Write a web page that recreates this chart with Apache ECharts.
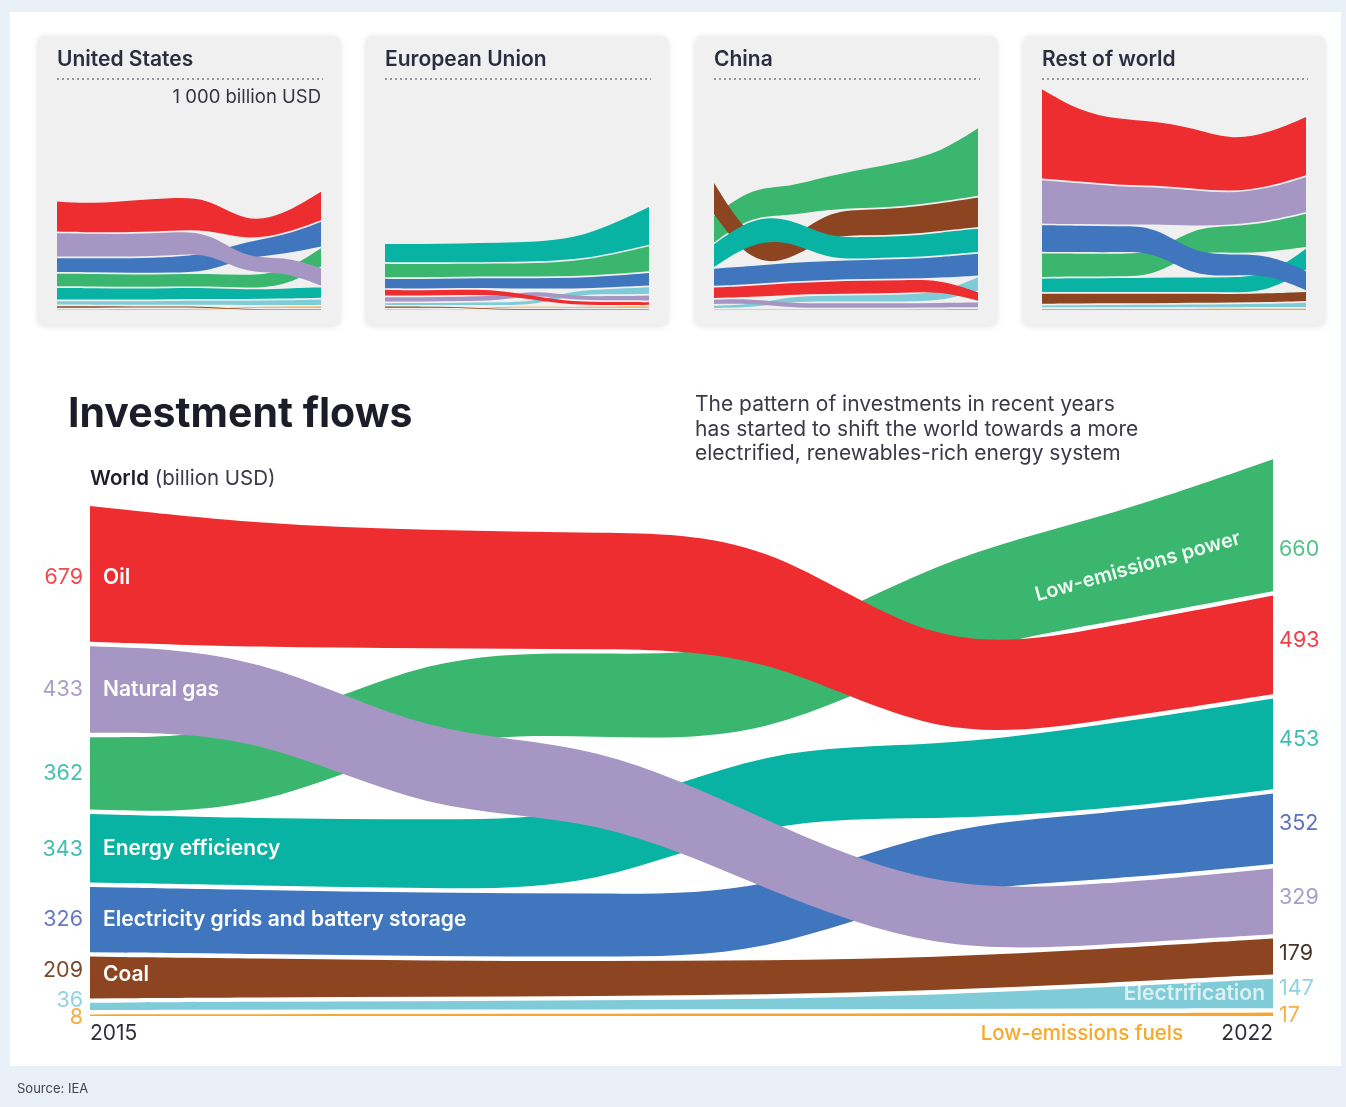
<!DOCTYPE html>
<html>
<head>
<meta charset="utf-8">
<title>Investment flows</title>
<script src="https://cdn.jsdelivr.net/npm/echarts@6/dist/echarts.min.js"></script>
<style>
  html, body { margin: 0; padding: 0; background: #e9f0f7; }
  #chart { width: 1346px; height: 1107px; }
</style>
</head>
<body>
<div id="chart"></div>
<script>
// ---- data (billion USD) ----
const years = [2015, 2016, 2017, 2018, 2019, 2020, 2021, 2022];
const categories = ['Oil', 'Natural gas', 'Low-emissions power', 'Energy efficiency',
  'Electricity grids and battery storage', 'Coal', 'Electrification', 'Low-emissions fuels'];

// World
const worldOil   = [679, 615, 590, 580, 585, 430, 465, 493];
const worldGas   = [433, 405, 385, 370, 345, 305, 300, 329];
const worldLEP   = [362, 385, 405, 415, 430, 470, 525, 660];
const worldEff   = [343, 335, 345, 350, 355, 365, 425, 453];
const worldGrids = [326, 320, 318, 315, 310, 315, 330, 352];
const worldCoal  = [209, 195, 180, 175, 170, 165, 170, 179];
const worldElec  = [36, 40, 42, 45, 50, 70, 105, 147];
const worldFuels = [8, 9, 10, 11, 12, 13, 15, 17];

// United States
const usOil   = [158, 150, 168, 172, 168, 90, 100, 150];
const usGas   = [123, 118, 120, 122, 112, 78, 80, 92];
const usLEP   = [66, 66, 64, 64, 66, 65, 74, 96];
const usEff   = [61, 60, 58, 58, 58, 50, 52, 55];
const usGrids = [72, 74, 76, 80, 95, 82, 97, 130];
const usCoal  = [8, 7, 6, 6, 5, 4, 3, 3];
const usElec  = [17, 18, 18, 20, 22, 22, 25, 28];
const usFuels = [3, 3, 4, 4, 4, 4, 5, 6];

// European Union
const euOil   = [30, 27, 28, 25, 20, 17, 16, 14];
const euGas   = [22, 22, 23, 23, 23, 21, 22, 26];
const euLEP   = [70, 70, 68, 68, 70, 78, 100, 131];
const euEff   = [96, 97, 98, 100, 104, 112, 150, 198];
const euGrids = [49, 50, 50, 52, 54, 56, 60, 66];
const euCoal  = [6, 5, 5, 4, 4, 3, 3, 3];
const euElec  = [9, 10, 12, 14, 17, 22, 28, 35];
const euFuels = [3, 3, 3, 4, 4, 4, 5, 6];

// China
const cnOil   = [55, 58, 62, 66, 68, 66, 62, 44];
const cnGas   = [22, 23, 24, 24, 24, 24, 24, 26];
const cnLEP   = [140, 150, 150, 175, 205, 235, 260, 355];
const cnEff   = [120, 130, 120, 115, 112, 110, 120, 123];
const cnGrids = [90, 95, 98, 98, 100, 102, 108, 115];
const cnCoal  = [165, 110, 100, 130, 135, 140, 145, 155];
const cnElec  = [12, 16, 26, 30, 32, 36, 44, 70];
const cnFuels = [2, 2, 3, 3, 3, 3, 4, 5];

// Rest of world
const rowOil   = [470, 370, 345, 338, 318, 272, 282, 307];
const rowGas   = [228, 215, 200, 195, 188, 165, 170, 184];
const rowLEP   = [123, 120, 118, 120, 125, 140, 155, 175];
const rowEff   = [70, 72, 74, 75, 76, 78, 85, 110];
const rowGrids = [140, 138, 136, 135, 120, 110, 105, 100];
const rowCoal  = [53, 52, 50, 50, 48, 45, 45, 48];
const rowElec  = [10, 11, 12, 13, 14, 15, 18, 22];
const rowFuels = [5, 5, 5, 5, 6, 6, 6, 7];

// ---- styling ----
const FONT = 'Inter, "Noto Sans", sans-serif';
const bandColors = ['#ee2d31', '#a596c4', '#3bb66f', '#09b3a3', '#3f76bd', '#8c4520', '#7fcbd8', '#f7a72c'];
const leftLabelColors  = ['#ef4a4f', '#a99dca', '#45c0b0', '#3fbdae', '#6479c2', '#7b4a2c', '#8fd3e3', '#f6ad45'];
const rightLabelColors = ['#ef3e46', '#a99dca', '#55c286', '#3fbdae', '#5b72c0', '#4a3328', '#8fd3e3', '#f6ad45'];
// paint order, bottom to top
const drawOrder = [7, 6, 2, 5, 3, 4, 1, 0];

const worldSeries = [worldOil, worldGas, worldLEP, worldEff, worldGrids, worldCoal, worldElec, worldFuels];
const panels = [
  { title: 'United States',  box: 38,   vals: [usOil, usGas, usLEP, usEff, usGrids, usCoal, usElec, usFuels] },
  { title: 'European Union', box: 366,  vals: [euOil, euGas, euLEP, euEff, euGrids, euCoal, euElec, euFuels] },
  { title: 'China',          box: 695,  vals: [cnOil, cnGas, cnLEP, cnEff, cnGrids, cnCoal, cnElec, cnFuels] },
  { title: 'Rest of world',  box: 1023, vals: [rowOil, rowGas, rowLEP, rowEff, rowGrids, rowCoal, rowElec, rowFuels] }
];

// Rank-ordered stacking: each year the largest category sits on top, with a gap between bands.
function layout(vals, gap) {
  const lo = vals.map(() => []), hi = vals.map(() => []);
  years.forEach((yr, j) => {
    const order = vals.map((v, i) => i).sort((a, b) => vals[a][j] - vals[b][j]);
    let base = 0;
    order.forEach(i => {
      lo[i][j] = base;
      hi[i][j] = base + vals[i][j];
      base = hi[i][j] + gap;
    });
  });
  return { lo, hi };
}

// Uniform cubic B-spline through pixel points (same construction as d3.curveBasis).
function basis(pts, out, first) {
  let x0, y0, x1, y1, k = 0;
  const f = v => v.toFixed(2);
  const bez = (x, y) => out.push('C' + f((2 * x0 + x1) / 3) + ',' + f((2 * y0 + y1) / 3) + ' ' +
    f((x0 + 2 * x1) / 3) + ',' + f((y0 + 2 * y1) / 3) + ' ' +
    f((x0 + 4 * x1 + x) / 6) + ',' + f((y0 + 4 * y1 + y) / 6));
  pts.forEach(p => {
    const x = p[0], y = p[1];
    if (k === 0) { out.push((first ? 'M' : 'L') + f(x) + ',' + f(y)); k = 1; }
    else if (k === 1) { k = 2; }
    else {
      if (k === 2) { out.push('L' + f((5 * x0 + x1) / 6) + ',' + f((5 * y0 + y1) / 6)); k = 3; }
      bez(x, y);
    }
    x0 = x1; y0 = y1; x1 = x; y1 = y;
  });
  if (k === 3) { bez(x1, y1); out.push('L' + f(x1) + ',' + f(y1)); }
  else if (k === 2) { out.push('L' + f(x1) + ',' + f(y1)); }
}

function bandSeries(axisIndex, lay) {
  return {
    type: 'custom',
    coordinateSystem: 'cartesian2d',
    xAxisIndex: axisIndex,
    yAxisIndex: axisIndex,
    silent: true,
    animation: false,
    z: 2,
    data: drawOrder.map(ci => [years[0], 0, ci]),
    encode: { x: 0, y: 1 },
    renderItem: function (params, api) {
      const ci = api.value(2);
      const top = years.map((yr, j) => api.coord([yr, lay.hi[ci][j]]));
      const bot = years.map((yr, j) => api.coord([yr, lay.lo[ci][j]])).reverse();
      const cmds = [];
      basis(top, cmds, true);
      basis(bot, cmds, false);
      cmds.push('Z');
      return { type: 'path', shape: { pathData: cmds.join(' ') }, style: { fill: bandColors[ci] } };
    }
  };
}

function txt(x, y, text, font, fill, align, extra) {
  return Object.assign({
    type: 'text', x: x, y: y,
    style: { text: text, font: font, fill: fill, align: align || 'left', textAlign: align || 'left',
             verticalAlign: 'middle', textVerticalAlign: 'middle' }
  }, extra || {});
}

const WORLD_GAP = 22;
const PANEL_GAP = 9;
const worldLay = layout(worldSeries, WORLD_GAP);
const panelLays = panels.map(p => layout(p.vals, PANEL_GAP));

// labels on the world chart, anchored to band centres through the axes
const leftNudge  = [4, 0, 0, 1, 0, -7, -6, 2];
const rightNudge = [-4, -4, 24, -4, -5, -3, -5, 1];
const namedAtStart = [0, 1, 3, 4, 5];

const worldLabels = {
  type: 'custom',
  coordinateSystem: 'cartesian2d',
  xAxisIndex: 4,
  yAxisIndex: 4,
  silent: true,
  animation: false,
  z: 5,
  data: [[years[0], 0]],
  encode: { x: 0, y: 1 },
  renderItem: function (params, api) {
    const last = years.length - 1;
    const mid = (ci, j) => (worldLay.lo[ci][j] + worldLay.hi[ci][j]) / 2;
    const kids = [];
    categories.forEach((name, ci) => {
      const pL = api.coord([years[0], mid(ci, 0)]);
      const pR = api.coord([years[last], mid(ci, last)]);
      kids.push(txt(pL[0] - 7, pL[1] + leftNudge[ci], String(worldSeries[ci][0]),
        '400 21.5px ' + FONT, leftLabelColors[ci], 'right'));
      kids.push(txt(pR[0] + 6, pR[1] + rightNudge[ci], String(worldSeries[ci][last]),
        '400 21.5px ' + FONT, rightLabelColors[ci], 'left'));
      if (namedAtStart.indexOf(ci) >= 0) {
        kids.push(txt(pL[0] + 13, pL[1] + (ci === 5 ? -3 : ci === 0 ? 4 : 0), name, '600 21px ' + FONT, '#ffffff', 'left'));
      }
    });
    // rotated label along the low-emissions power band
    const t = 0.2;
    const lepMid = mid(2, last - 1) * (1 - t) + mid(2, last) * t;
    const pLep = api.coord([years[last - 1] + t, lepMid]);
    kids.push(txt(pLep[0], pLep[1] + 5, categories[2], '600 20px ' + FONT, 'rgba(255,255,255,0.92)', 'center',
      { rotation: 0.275 }));
    // electrification, inside its band at the right end
    const pEl = api.coord([years[last], mid(6, last)]);
    kids.push(txt(pEl[0] - 8, pEl[1], categories[6], '600 21px ' + FONT, 'rgba(255,255,255,0.72)', 'right'));
    // low-emissions fuels, under the baseline
    const base = api.coord([years[last], 0]);
    kids.push(txt(base[0] - 90, base[1] + 18, categories[7], '500 20.5px ' + FONT, '#f7a82a', 'right'));
    // first and last year
    const b0 = api.coord([years[0], 0]);
    kids.push(txt(b0[0], b0[1] + 18, String(years[0]), '400 21px ' + FONT, '#2f2f3c', 'left'));
    kids.push(txt(base[0], base[1] + 18, String(years[last]), '400 21px ' + FONT, '#2f2f3c', 'right'));
    return { type: 'group', children: kids };
  }
};

// ---- axes / grids ----
const grids = [], xAxes = [], yAxes = [], series = [];
panels.forEach((p, i) => {
  grids.push({ left: p.box + 19, width: 264, top: 82, bottom: 797 });
  xAxes.push({ type: 'value', gridIndex: i, min: years[0], max: years[years.length - 1], show: false });
  yAxes.push({ type: 'value', gridIndex: i, min: 0, max: 1200, show: false });
  series.push(bandSeries(i, panelLays[i]));
});
grids.push({ left: 90, right: 73, top: 456, bottom: 91 });
xAxes.push({ type: 'value', gridIndex: 4, min: years[0], max: years[years.length - 1], show: false });
yAxes.push({ type: 'value', gridIndex: 4, min: 0, max: 2800, show: false });
series.push(bandSeries(4, worldLay));
series.push(worldLabels);

// ---- page furniture ----
const graphic = [
  { type: 'rect', z: -20, shape: { x: 0, y: 0, width: 1346, height: 1107 }, style: { fill: '#e9f0f7' } },
  { type: 'rect', z: -19, shape: { x: 10, y: 12, width: 1331, height: 1054 }, style: { fill: '#ffffff' } }
];
panels.forEach((p, i) => {
  graphic.push({ type: 'rect', z: -18, shape: { x: p.box, y: 36, width: 302, height: 289, r: 7 },
    style: { fill: '#f0f0f0', shadowBlur: 6, shadowColor: 'rgba(0,0,0,0.13)', shadowOffsetY: 1 } });
  graphic.push({ type: 'text', z: 10, x: p.box + 19, y: 60,
    style: { text: p.title, font: '600 21px ' + FONT, fill: '#2b2d40', textAlign: 'left', textVerticalAlign: 'middle' } });
  graphic.push({ type: 'line', z: 10, shape: { x1: p.box + 19, y1: 79, x2: p.box + 285, y2: 79 },
    style: { stroke: '#7a7a80', lineWidth: 1.6, lineDash: [2, 3] } });
  if (i === 0) {
    graphic.push({ type: 'text', z: 10, x: p.box + 283, y: 97,
      style: { text: '1 000 billion USD', font: '400 18.5px ' + FONT, fill: '#35353f', textAlign: 'right', textVerticalAlign: 'middle' } });
  }
});
graphic.push(
  { type: 'text', z: 10, x: 68, y: 415,
    style: { text: 'Investment flows', font: '700 41px ' + FONT, fill: '#1d1d2a', textAlign: 'left', textVerticalAlign: 'middle' } },
  { type: 'text', z: 10, x: 90, y: 479,
    style: { text: '{b|World} (billion USD)', font: '400 20.5px ' + FONT, fill: '#3a3a46',
      rich: { b: { font: '600 20.5px ' + FONT, fill: '#1f1f2c' } }, textAlign: 'left', textVerticalAlign: 'middle' } },
  { type: 'text', z: 10, x: 695, y: 405,
    style: { text: 'The pattern of investments in recent years', font: '400 21px ' + FONT, fill: '#3a3a48', textAlign: 'left', textVerticalAlign: 'middle' } },
  { type: 'text', z: 10, x: 695, y: 430,
    style: { text: 'has started to shift the world towards a more', font: '400 21px ' + FONT, fill: '#3a3a48', textAlign: 'left', textVerticalAlign: 'middle' } },
  { type: 'text', z: 10, x: 695, y: 454,
    style: { text: 'electrified, renewables-rich energy system', font: '400 21px ' + FONT, fill: '#3a3a48', textAlign: 'left', textVerticalAlign: 'middle' } },
  { type: 'text', z: 10, x: 17, y: 1089,
    style: { text: 'Source: IEA', font: '400 13px ' + FONT, fill: '#444450', textAlign: 'left', textVerticalAlign: 'middle' } }
);

const chart = echarts.init(document.getElementById('chart'), null, { renderer: 'canvas' });
chart.setOption({
  animation: false,
  backgroundColor: '#e9f0f7',
  grid: grids,
  xAxis: xAxes,
  yAxis: yAxes,
  graphic: graphic,
  series: series
});
</script>
</body>
</html>
